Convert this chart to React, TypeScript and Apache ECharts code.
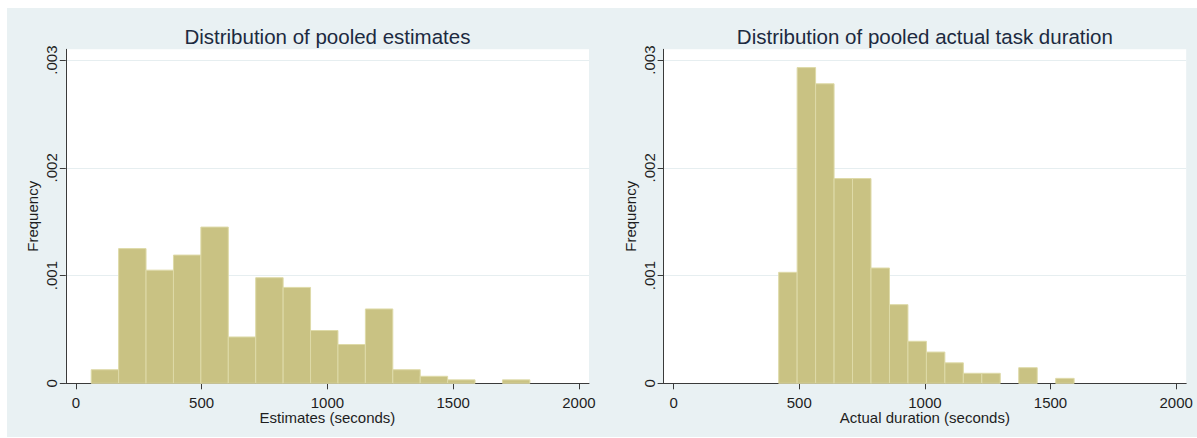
import React, { useEffect, useRef } from "react";
import * as echarts from "echarts";

// ---- data ----
const xTicks = [0, 500, 1000, 1500, 2000];
const yTicks = [0, 0.001, 0.002, 0.003];

const estTitle = "Distribution of pooled estimates";
const estXName = "Estimates (seconds)";
const estBinStart = 61;
const estBinWidth = 109;
const estDensity = [
  0.000126, 0.00125, 0.00105, 0.00119, 0.00145, 0.00043, 0.00098, 0.00089,
  0.00049, 0.00036, 0.00069, 0.000126, 0.000065, 0.000032, 0, 0.000032,
];

const actTitle = "Distribution of pooled actual task duration";
const actXName = "Actual duration (seconds)";
const actBinStart = 418;
const actBinWidth = 73.5;
const actDensity = [
  0.00103, 0.00293, 0.00278, 0.0019, 0.0019, 0.00107, 0.00073, 0.00039,
  0.00029, 0.00019, 0.000093, 0.000093, 0, 0.000145, 0, 0.000046,
];

const FONT = "'Liberation Sans', Arial, sans-serif";
const BAR_FILL = "#c9c283";
const BAR_STROKE = "#dedaa8";
const AXIS_COLOR = "#3a3a3a";
const TEXT_COLOR = "#1e1e1e";
const TITLE_COLOR = "#1c2a40";
const BG = "#e9f1f3";

function bins(start: number, width: number, dens: number[]) {
  return dens.map((d, i) => [start + i * width, start + (i + 1) * width, d]);
}

const grids = [
  { left: 58.8, top: 41.3, width: 523.2, height: 334 },
  { left: 656.6, top: 41.3, width: 522.6, height: 334 },
];

function xAxis(gridIndex: number, name: string) {
  return {
    gridIndex,
    type: "value",
    min: -40,
    max: 2040,
    axisLine: { show: true, onZero: false, lineStyle: { color: AXIS_COLOR, width: 1 } },
    axisTick: { show: true, length: 6, customValues: xTicks, lineStyle: { color: AXIS_COLOR } },
    axisLabel: {
      customValues: xTicks,
      fontSize: 15,
      lineHeight: 14,
      fontFamily: FONT,
      color: TEXT_COLOR,
      margin: 12,
      formatter: (v: number) => String(v),
    },
    splitLine: { show: false },
    name,
    nameLocation: "middle",
    nameGap: 27,
    nameMoveOverlap: false,
    nameTextStyle: { fontSize: 15, lineHeight: 14, fontFamily: FONT, color: TEXT_COLOR },
  };
}

function yAxis(gridIndex: number) {
  return {
    gridIndex,
    type: "value",
    min: 0,
    max: 0.0031,
    interval: 0.001,
    axisLine: { show: true, onZero: false, lineStyle: { color: AXIS_COLOR, width: 1 } },
    axisTick: { show: true, length: 6, customValues: yTicks, lineStyle: { color: AXIS_COLOR } },
    axisLabel: {
      customValues: yTicks,
      rotate: 90,
      fontSize: 15,
      fontFamily: FONT,
      color: TEXT_COLOR,
      margin: 7,
      formatter: (v: number) => (v === 0 ? "0" : String(Number(v.toFixed(3))).replace(/^0\./, ".")),
    },
    splitLine: { show: true, lineStyle: { color: "#e6eef0", width: 1 } },
    name: "Frequency",
    nameLocation: "middle",
    nameGap: 26,
    nameMoveOverlap: false,
    nameTextStyle: { fontSize: 15, fontFamily: FONT, color: TEXT_COLOR },
  };
}

function histSeries(idx: number, data: number[][]) {
  return {
    type: "custom",
    xAxisIndex: idx,
    yAxisIndex: idx,
    data,
    encode: { x: [0, 1], y: 2 },
    renderItem: (params: any, api: any) => {
      const s = api.value(0);
      const e = api.value(1);
      const h = api.value(2);
      if (!(h > 0)) return null;
      const p0 = api.coord([s, 0]);
      const p1 = api.coord([e, h]);
      return {
        type: "rect",
        shape: { x: p0[0], y: p1[1], width: p1[0] - p0[0], height: p0[1] - p1[1] },
        style: { fill: BAR_FILL, stroke: BAR_STROKE, lineWidth: 1 },
      };
    },
  };
}

export default function App() {
  const ref = useRef<HTMLDivElement>(null);
  useEffect(() => {
    if (!ref.current) return;
    const chart = echarts.init(ref.current, null, { renderer: "svg" });
    chart.setOption({
      animation: false,
      backgroundColor: BG,
      grid: grids.map((g) => ({
        ...g,
        show: true,
        backgroundColor: "#ffffff",
        borderWidth: 0,
        containLabel: false,
      })),
      xAxis: [xAxis(0, estXName), xAxis(1, actXName)],
      yAxis: [yAxis(0), yAxis(1)],
      series: [
        histSeries(0, bins(estBinStart, estBinWidth, estDensity)),
        histSeries(1, bins(actBinStart, actBinWidth, actDensity)),
      ],
      graphic: [
        {
          type: "text",
          x: grids[0].left + grids[0].width / 2,
          y: 28.5,
          style: {
            text: estTitle,
            font: `20.5px ${FONT}`,
            fill: TITLE_COLOR,
            textAlign: "center",
            textVerticalAlign: "middle",
          },
        },
        {
          type: "text",
          x: grids[1].left + grids[1].width / 2,
          y: 28.5,
          style: {
            text: actTitle,
            font: `20.5px ${FONT}`,
            fill: TITLE_COLOR,
            textAlign: "center",
            textVerticalAlign: "middle",
          },
        },
      ],
    });
    return () => chart.dispose();
  }, []);
  return (
    <div
      ref={ref}
      style={{ position: "fixed", left: 7, top: 8, width: 1190, height: 429 }}
    />
  );
}
